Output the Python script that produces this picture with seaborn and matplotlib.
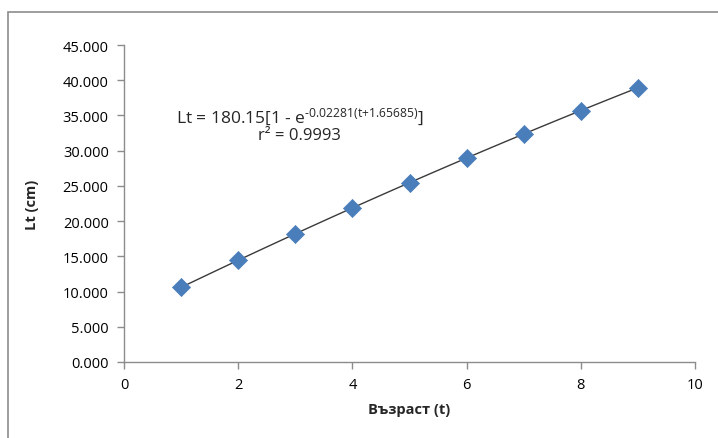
import matplotlib
matplotlib.use("Agg")
import matplotlib.pyplot as plt
import seaborn as sns
import pandas as pd
from matplotlib.patches import Rectangle
from matplotlib.ticker import FormatStrFormatter

age = [1, 2, 3, 4, 5, 6, 7, 8, 9]
length_cm = [10.6, 14.5, 18.1, 21.9, 25.4, 29.0, 32.4, 35.7, 38.9]
x_ticks = [0, 2, 4, 6, 8, 10]
y_ticks = [0, 5, 10, 15, 20, 25, 30, 35, 40, 45]
eq_text = r"Lt = 180.15[1 - e$^{\text{-0.02281(t+1.65685)}}$]"
r2_text = "r² = 0.9993"
x_label = "Възраст (t)"
y_label = "Lt (cm)"

sns.set_style("white")
plt.rcParams["font.family"] = ["Open Sans", "DejaVu Sans"]
plt.rcParams["mathtext.default"] = "regular"
plt.rcParams["mathtext.fontset"] = "custom"
plt.rcParams["mathtext.rm"] = "Open Sans"
plt.rcParams["mathtext.it"] = "Open Sans"

df = pd.DataFrame({"t": age, "Lt": length_cm})

fig = plt.figure(figsize=(7.18, 4.39), dpi=100)
ax = fig.add_axes([124/718, 1-363/439, (695-124)/718, (363-46)/439])

# outer chart frame (cut at right/bottom like the reference)
fig.patches.append(Rectangle((8/718, -0.05), 1.2, 1-13/439+0.05,
                             transform=fig.transFigure, fill=False,
                             edgecolor="#8c8c8c", linewidth=1.2))

sns.regplot(data=df, x="t", y="Lt", order=2, ci=None, scatter=False,
            truncate=True, ax=ax, line_kws=dict(color="#3a3a3a", linewidth=1.0))
sns.scatterplot(data=df, x="t", y="Lt", marker="D", s=85, color="#4a7ebb",
                edgecolor="#4a7ebb", linewidth=0.5, ax=ax, zorder=3)

ax.set_xlim(0, 10)
ax.set_ylim(0, 45)
ax.set_xticks(x_ticks)
ax.set_yticks(y_ticks)
ax.yaxis.set_major_formatter(FormatStrFormatter("%.3f"))
for s in ["top", "right"]:
    ax.spines[s].set_visible(False)
for s in ["left", "bottom"]:
    ax.spines[s].set_color("#8c8c8c")
    ax.spines[s].set_linewidth(1.0)
ax.tick_params(axis="both", direction="out", length=5, width=1.0,
               color="#8c8c8c", labelsize=10.5, labelcolor="#000000", pad=6)
ax.tick_params(axis="y", left=True)
ax.tick_params(axis="x", bottom=True)

ax.set_xlabel(x_label, fontsize=10.5, fontweight="bold", labelpad=7)
ax.set_ylabel(y_label, fontsize=10.5, fontweight="bold", labelpad=17)

ax.text(3.08, 34.9, eq_text, ha="center", va="center", fontsize=12.5)
ax.text(3.08, 32.2, r2_text, ha="center", va="center", fontsize=12)

fig.savefig("out.png", dpi=100)
